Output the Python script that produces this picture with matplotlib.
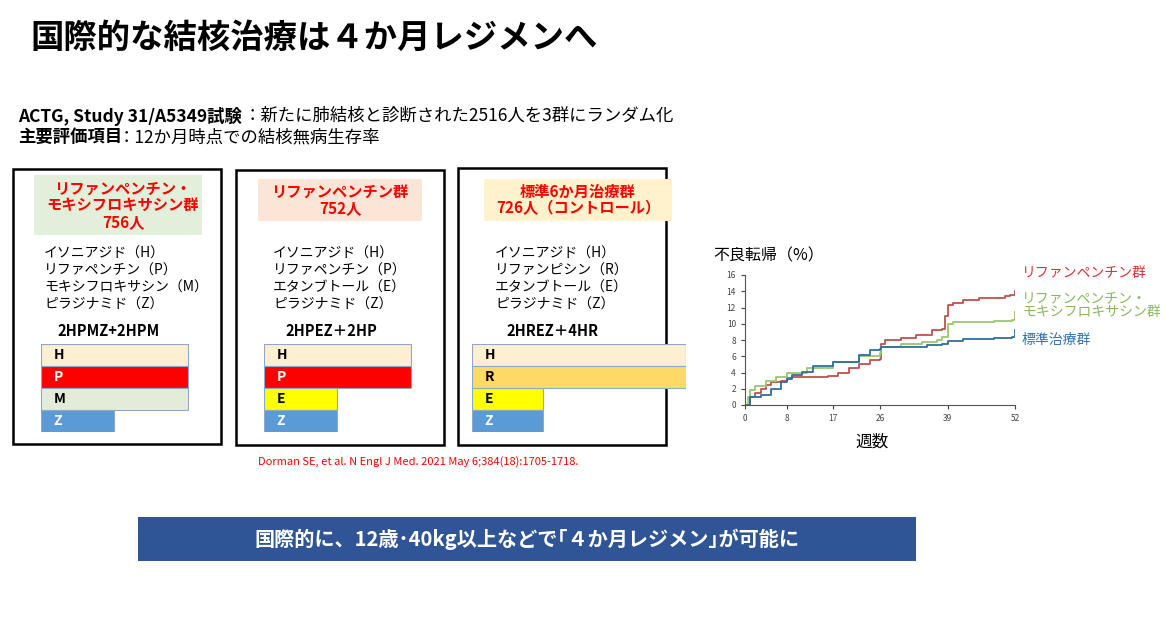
import matplotlib
matplotlib.use("Agg")
import matplotlib.pyplot as plt
from matplotlib.patches import Rectangle

plt.rcParams["font.family"] = "Noto Sans CJK JP"

W, H = 1165, 621
# ---- data ----
weeks_red = [0,1,2,3,4,5,7,8,9,16,18,20,22,24,26,26.2,27,30,33,36,38,38.5,39,40,42,45,50,51,52]
vals_red = [0,1,1.5,2,2.5,2.8,3,3.3,3.5,3.6,4,4.5,5,5.5,5.7,7.5,8,8.3,8.6,9.2,9.4,11,12.3,12.6,12.9,13.2,13.4,13.6,14]
weeks_green = [0,0.5,1,2,4,6,8,12,17,22,26,26.2,30,34,37,38,39,40,48,51.5,52]
vals_green = [0,1,1.8,2.4,3,3.5,3.9,4.6,5.3,6,6.4,7.2,7.5,7.7,8,8.4,10,10.2,10.3,10.5,11.4]
weeks_blue = [0,1,3,5,7,8,9,11,13,17,22,24,26,26.2,30,35,38,39,42,48,51.5,52]
vals_blue = [0,1,1.2,2,2.8,3.2,3.7,4.1,4.8,5.3,6.2,6.8,6.9,7.1,7.2,7.4,7.5,7.9,8.1,8.3,8.4,9.2]
xticks = [0, 8, 17, 26, 39, 52]
yticks = [0, 2, 4, 6, 8, 10, 12, 14, 16]

regimens = [
    {"drugs": ["H", "P", "M", "Z"], "months": [4, 4, 4, 2],
     "colors": ["#fdefd0", "#ff0000", "#e2ecd9", "#5b9bd5"], "tc": ["k", "w", "k", "w"]},
    {"drugs": ["H", "P", "E", "Z"], "months": [4, 4, 2, 2],
     "colors": ["#fdefd0", "#ff0000", "#ffff00", "#5b9bd5"], "tc": ["k", "w", "k", "w"]},
    {"drugs": ["H", "R", "E", "Z"], "months": [6, 6, 2, 2],
     "colors": ["#fdefd0", "#ffd966", "#ffff00", "#5b9bd5"], "tc": ["k", "k", "k", "w"]},
]

fig = plt.figure(figsize=(W/100, H/100), dpi=100)
bg = fig.add_axes([0, 0, 1, 1])
bg.set_xlim(0, W); bg.set_ylim(H, 0); bg.axis("off")

bg.text(30, 38, "国際的な結核治療は４か月レジメンへ", fontsize=24, fontweight="bold", va="center")
bg.text(18, 116, "ACTG, Study 31/A5349試験", fontsize=12.5, fontweight="bold", va="center")
bg.text(244, 116, "：新たに肺結核と診断された2516人を3群にランダム化", fontsize=12.5, va="center")
bg.text(18, 137, "主要評価項目", fontsize=12.5, fontweight="bold", va="center")
bg.text(118, 137, "：12か月時点での結核無病生存率", fontsize=12.5, va="center")

boxes = [(13, 169, 208, 275), (236, 170, 208, 275), (458, 168, 208, 277)]
heads = [
    ((34, 175, 168, 60), "#e2efda", "リファンペンチン・\nモキシフロキサシン群\n756人", 123),
    ((258, 179, 164, 42), "#fbe5d6", "リファンペンチン群\n752人", 340),
    ((484, 179, 188, 42), "#fff2cc", "標準6か月治療群\n726人（コントロール）", 578),
]
druglists = [
    (44, ["イソニアジド（H）", "リファペンチン（P）", "モキシフロキサシン（M）", "ピラジナミド（Z）"]),
    (273, ["イソニアジド（H）", "リファペンチン（P）", "エタンブトール（E）", "ピラジナミド（Z）"]),
    (495, ["イソニアジド（H）", "リファンピシン（R）", "エタンブトール（E）", "ピラジナミド（Z）"]),
]
codes = [(57, "2HPMZ+2HPM"), (285, "2HPEZ＋2HP"), (506, "2HREZ＋4HR")]
bar_x0 = [41, 264, 472]
bar_w = [220, 220, 214]

for i in range(3):
    x, y, w, h = boxes[i]
    bg.add_patch(Rectangle((x, y), w, h, fill=False, ec="k", lw=1.8))
    (hx, hy, hw, hh), hc, ht, tx = heads[i]
    bg.add_patch(Rectangle((hx, hy), hw, hh, fc=hc, ec="none"))
    bg.text(tx, hy + hh/2, ht, color="#ff0000", fontsize=11, fontweight="bold",
            ha="center", va="center", linespacing=1.05)
    lx, lines = druglists[i]
    for k, t in enumerate(lines):
        bg.text(lx, 254 + k*17, t, fontsize=10, va="center")
    cx, ct = codes[i]
    bg.text(cx, 331, ct, fontsize=10.5, fontweight="bold", va="center")
    rg = regimens[i]
    ax = fig.add_axes([bar_x0[i]/W, 1 - 432/H, bar_w[i]/W, 88/H])
    ax.set_xlim(0, 6); ax.set_ylim(3.5, -0.5); ax.axis("off")
    ax.barh(range(4), rg["months"], height=1.0, color=rg["colors"],
            edgecolor="#8ea9c8", linewidth=0.8, align="center")
    for k, d in enumerate(rg["drugs"]):
        ax.text(0.35, k, d, fontsize=10, fontweight="bold", color=rg["tc"][k], va="center")

bg.text(258, 462, "Dorman SE, et al. N Engl J Med. 2021 May 6;384(18):1705-1718.",
        fontsize=8, color="#ff0000", va="center")

bg.add_patch(Rectangle((138, 517), 778, 44, fc="#2f5597", ec="none"))
bg.text(527, 539, "国際的に、12歳･40kg以上などで｢４か月レジメン｣が可能に",
        fontsize=14.5, fontweight="bold", color="w", ha="center", va="center")

# ---- KM chart ----
bg.text(713, 256, "不良転帰（%）", fontsize=11.5, va="center")
ka = fig.add_axes([745/W, 1 - 405/H, 270/W, 130/H])
ka.step(weeks_red, vals_red, where="post", color="#c0504d", lw=1.3)
ka.step(weeks_green, vals_green, where="post", color="#9bc66b", lw=1.3)
ka.step(weeks_blue, vals_blue, where="post", color="#2e6f9e", lw=1.3)
ka.set_xlim(0, 52); ka.set_ylim(0, 16)
ka.set_xticks(xticks); ka.set_yticks(yticks)
ka.tick_params(labelsize=6, colors="#444", length=3, width=0.8)
for s in ["top", "right"]:
    ka.spines[s].set_visible(False)
for s in ["left", "bottom"]:
    ka.spines[s].set_color("#555")
bg.text(855, 442, "週数", fontsize=12, va="center")
bg.text(1022, 273, "リファンペンチン群", fontsize=10, color="#e0302f", va="center")
bg.text(1022, 305, "リファンペンチン・\nモキシフロキサシン群", fontsize=10, color="#8ab85a",
        va="center", linespacing=1.0)
bg.text(1022, 340, "標準治療群", fontsize=10, color="#2e75b6", va="center")

fig.savefig("out.png", dpi=100)
